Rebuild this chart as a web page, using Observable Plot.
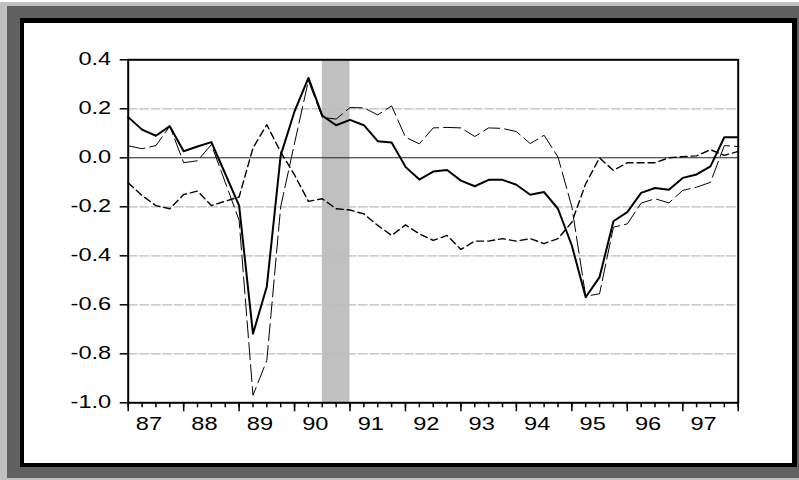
<!DOCTYPE html>
<html><head><meta charset="utf-8">
<script src="https://cdn.jsdelivr.net/npm/d3@7"></script>
<script src="https://cdn.jsdelivr.net/npm/@observablehq/plot@0.6"></script>
<style>
html,body{margin:0;padding:0;background:#fff;}
#wrap{position:relative;width:799px;height:480px;overflow:hidden;}
.layer{position:absolute;}
#chart{position:absolute;left:0;top:0;}
</style></head>
<body><div id="wrap">
<div class="layer" style="left:0;top:2px;width:799px;height:478px;background:#c0c0c0"></div>
<div class="layer" style="left:7px;top:6px;width:792px;height:472px;background:#616161"></div>
<div class="layer" style="left:20px;top:18px;width:777px;height:449px;background:#000"></div>
<div class="layer" style="left:24px;top:23px;width:768px;height:440px;background:#fff"></div>
<div id="chart"></div>
</div>
<script>
// Quarterly series, 1987Q1 .. 1998Q1
const startYear = 1987;
const solid = [0.166, 0.115, 0.09, 0.129, 0.027, 0.046, 0.064, -0.065, -0.195, -0.718,
  -0.525, 0.01, 0.19, 0.326, 0.172, 0.133, 0.155, 0.133, 0.068, 0.062,
  -0.037, -0.089, -0.056, -0.05, -0.093, -0.116, -0.09, -0.09, -0.11, -0.151,
  -0.14, -0.208, -0.358, -0.569, -0.487, -0.259, -0.222, -0.143, -0.123, -0.13,
  -0.082, -0.068, -0.035, 0.084, 0.084];
const longDash = [0.049, 0.037, 0.05, 0.129, -0.02, -0.012, 0.054, -0.1, -0.255, -0.969,
  -0.827, -0.2, 0.06, 0.315, 0.165, 0.158, 0.205, 0.204, 0.175, 0.212,
  0.084, 0.057, 0.122, 0.124, 0.122, 0.087, 0.122, 0.12, 0.107, 0.058,
  0.092, 0.003, -0.2, -0.565, -0.555, -0.283, -0.27, -0.185, -0.167, -0.184,
  -0.133, -0.12, -0.1, 0.05, 0.046];
const shortDash = [-0.102, -0.154, -0.195, -0.208, -0.15, -0.136, -0.195, -0.177, -0.16, 0.04,
  0.135, 0.023, -0.07, -0.178, -0.167, -0.208, -0.213, -0.229, -0.276, -0.317,
  -0.274, -0.31, -0.337, -0.317, -0.374, -0.34, -0.34, -0.33, -0.34, -0.33,
  -0.35, -0.33, -0.263, -0.106, 0.0, -0.052, -0.02, -0.02, -0.02, 0.0,
  0.005, 0.008, 0.033, 0.01, 0.026];
const yearLabels = ["87","88","89","90","91","92","93","94","95","96","97"];
const yTicks = [0.4, 0.2, 0.0, -0.2, -0.4, -0.6, -0.8, -1.0];
const gridValues = [0.2, -0.2, -0.4, -0.6, -0.8];
const recession = [{start: 1990.5, end: 1991.0}];

const toRows = arr => arr.map((v, i) => ({t: startYear + i / 4, v}));
const yearTicks = d3.range(startYear, startYear + 12);
const quarterTicks = d3.range(0, solid.length).map(i => startYear + i / 4);
const labelTicks = yearLabels.map((_, k) => startYear + k + 0.375);

const plot = Plot.plot({
  width: 799,
  height: 480,
  marginLeft: 127.7,
  marginRight: 61.3,
  marginTop: 59.3,
  marginBottom: 77.7,
  style: {background: "transparent", fontFamily: "'Liberation Sans', Arial, sans-serif", fontSize: "17.5px", color: "#000"},
  x: {domain: [startYear, startYear + 11], axis: null},
  y: {domain: [-1.0, 0.4], axis: null},
  marks: [
    Plot.rect(recession, {x1: "start", x2: "end", fill: "#c0c0c0"}),
    Plot.ruleY(gridValues, {stroke: "#bcbcbc", strokeWidth: 1.2, strokeDasharray: "10,1.5"}),
    Plot.ruleY([0], {stroke: "#222", strokeWidth: 1.1}),
    Plot.line(toRows(shortDash), {x: "t", y: "v", stroke: "#000", strokeWidth: 1.4, strokeDasharray: "7,4"}),
    Plot.line(toRows(longDash), {x: "t", y: "v", stroke: "#000", strokeWidth: 1, strokeDasharray: "17,5"}),
    Plot.line(toRows(solid), {x: "t", y: "v", stroke: "#000", strokeWidth: 2}),
    Plot.frame({stroke: "#000", strokeWidth: 2}),
    Plot.axisY(yTicks, {tickSize: 8, strokeWidth: 1.5, tickFormat: () => "", label: null}),
    Plot.axisY(yTicks, {tickSize: 0, tickPadding: 17, fontSize: 17.5, tickFormat: d => d.toFixed(1), label: null}),
    Plot.axisX(yearTicks, {tickSize: 9, strokeWidth: 1.5, tickFormat: () => "", label: null}),
    Plot.axisX(quarterTicks, {tickSize: 5, strokeWidth: 1.5, tickFormat: () => "", label: null}),
    Plot.axisX(labelTicks, {tickSize: 0, tickPadding: 15, fontSize: 17.5, tickFormat: d => yearLabels[Math.round(d - startYear - 0.375)], label: null})
  ]
});

// widen the glyphs horizontally (reference text is horizontally stretched)
plot.querySelectorAll("text").forEach(t => {
  const tr = t.getAttribute("transform");
  if (tr && tr.includes("translate")) {
    t.setAttribute("transform", tr + " scale(1.35,1)");
  } else {
    const x = +t.getAttribute("x") || 0, y = +t.getAttribute("y") || 0;
    t.removeAttribute("x"); t.removeAttribute("y");
    t.setAttribute("transform", `translate(${x},${y}) scale(1.35,1)`);
  }
});
document.getElementById("chart").appendChild(plot);
</script>
</body></html>
